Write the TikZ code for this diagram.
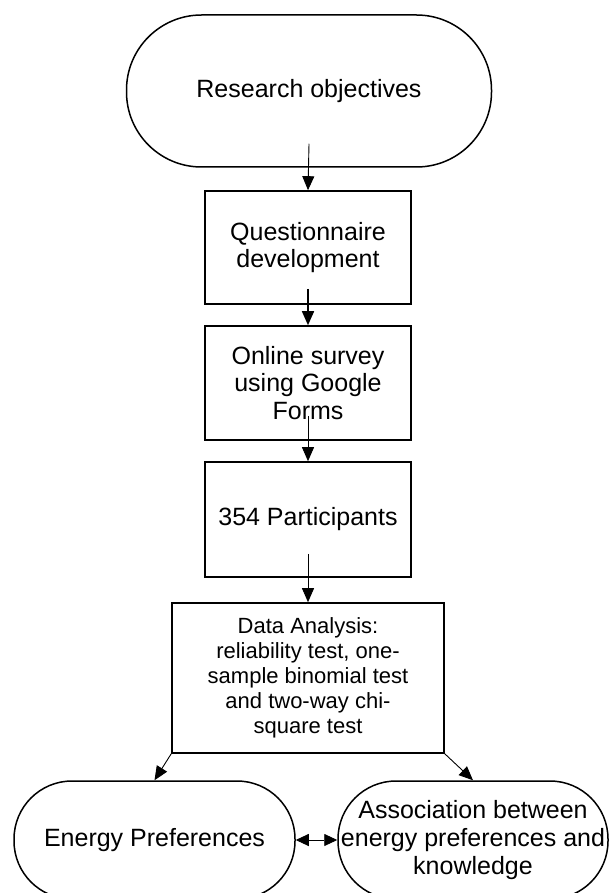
\documentclass[tikz,border=0pt]{standalone}
\usepackage{fontspec}
\setmainfont{Liberation Sans}
\usetikzlibrary{arrows.meta}
\tikzset{
    terminal/.style={rectangle,draw,line width=1.5pt,rounded corners=#1,align=center,inner sep=0pt,font=\fontsize{25}{28}\selectfont},
    process/.style={rectangle,draw,line width=1.6pt,align=center,inner sep=2pt,font=\fontsize{25}{27.5}\selectfont},
    dedge/.style={-{Triangle[length=14pt,width=12pt]},line width=0.9pt,draw=black},
    bedge/.style={{Triangle[length=13pt,width=12pt]}-{Triangle[length=13pt,width=12pt]},line width=0.9pt,draw=black},
}
\begin{document}
\begin{tikzpicture}[x=1pt,y=-1pt]
\useasboundingbox (0,0) rectangle (609,893);
\clip (0,0) rectangle (609,893);
\node[terminal=75pt,minimum width=365pt,minimum height=152pt] (obj) at (309,91) {Research objectives};
\node[process,minimum width=206pt,minimum height=113pt] (quest) at (308,247.5) {Questionnaire\\development};
\node[process,minimum width=206pt,minimum height=114pt] (survey) at (308,383) {Online survey\\using Google\\Forms};
\node[process,minimum width=206pt,minimum height=115pt] (part) at (308,519.5) {354 Participants};
\node[process,minimum width=272pt,minimum height=150pt,font=\fontsize{22}{25}\selectfont] (ana) at (308,678) {Data Analysis:\\reliability test, one-\\sample binomial test\\and two-way chi-\\square test};
\node[terminal=58pt,minimum width=281pt,minimum height=118pt] (pref) at (154.5,840) {Energy Preferences};
\node[terminal=58pt,minimum width=270pt,minimum height=118pt] (assoc) at (473,840) {Association between\\energy preferences and\\knowledge};
\draw[dedge] ([yshift=24pt]obj.south) -- (quest.north);
\draw[dedge,line width=1.6pt] ([yshift=16pt]quest.south) -- (survey.north);
\draw[dedge] ([yshift=25pt]survey.south) -- (part.north);
\draw[dedge] ([yshift=24pt]part.south) -- (ana.north);
\draw[dedge] (ana.south west) -- (pref.north);
\draw[dedge] (ana.south east) -- (assoc.north);
\draw[bedge] (pref.east) -- (assoc.west);
\end{tikzpicture}
\end{document}
